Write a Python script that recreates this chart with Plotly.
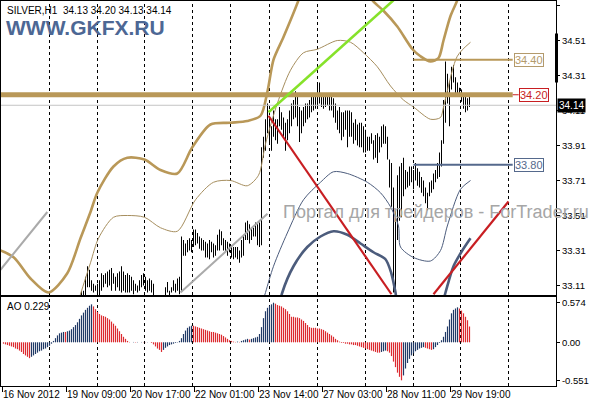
import plotly.graph_objects as go

W, H = 596, 400

# ---------------- data ----------------
SYMBOL = "SILVER,H1"
LAST_OHLC = ["34.13", "34.20", "34.13", "34.14"]
BROKER = "WWW.GKFX.RU"
WATERMARK = "Портал для трейдеров - ForTrader.ru"

FIRST_VISIBLE_BAR = 39   # earlier bars lie below the visible price range
HIGH = [
    33.08, 33.08, 33.16, 33.22, 33.20, 33.14, 33.12, 33.11, 33.12, 33.14,
    33.18, 33.17, 33.18, 33.19, 33.20, 33.21, 33.18, 33.16, 33.18, 33.19,
    33.22, 33.19, 33.17, 33.18, 33.17, 33.16, 33.14, 33.12, 33.11, 33.14,
    33.17, 33.18, 33.16, 33.14, 33.15, 33.14, 33.12, 33.04, 33.03, 33.02,
    33.03, 33.04, 33.10, 33.13, 33.08, 33.10, 33.14, 33.12, 33.15, 33.16,
    33.39, 33.37, 33.35, 33.37, 33.38, 33.37, 33.43, 33.43, 33.41, 33.39,
    33.38, 33.37, 33.36, 33.35, 33.37, 33.36, 33.35, 33.34, 33.40, 33.43,
    33.42, 33.38, 33.37, 33.36, 33.35, 33.34, 33.33, 33.33, 33.33, 33.31,
    33.37, 33.40, 33.47, 33.48, 33.46, 33.44, 33.44, 33.47, 33.46, 33.47,
    33.90, 33.96, 34.06, 34.15, 34.07, 34.02, 34.11, 34.06, 34.06, 34.13,
    34.10, 34.07, 34.04, 34.06, 34.11, 34.15, 34.17, 34.22, 34.19, 34.13,
    34.11, 34.13, 34.15, 34.15, 34.17, 34.19, 34.21, 34.20, 34.27, 34.27,
    34.21, 34.19, 34.19, 34.20, 34.19, 34.19, 34.18, 34.15, 34.11, 34.13,
    34.10, 34.10, 34.11, 34.11, 34.11, 34.10, 34.04, 34.06, 34.03, 34.04,
    34.04, 34.02, 34.00, 33.96, 33.96, 33.98, 33.94, 33.97, 33.98, 33.96,
    34.02, 34.03, 34.02, 33.96, 33.83, 33.81, 33.67, 33.54, 33.74, 33.79,
    33.81, 33.84, 33.77, 33.76, 33.79, 33.79, 33.77, 33.81, 33.78, 33.76,
    33.73, 33.71, 33.67, 33.64, 33.70, 33.71, 33.75, 33.77, 33.81, 33.87,
    33.94, 34.17, 34.39, 34.32, 34.28, 34.36, 34.37, 34.30, 34.27, 34.24,
    34.23, 34.21, 34.19, 34.18, 34.20,
]
LOW = [
    33.03, 33.03, 33.03, 33.10, 33.10, 33.08, 33.07, 33.08, 33.04, 33.03,
    33.08, 33.10, 33.12, 33.10, 33.11, 33.08, 33.12, 33.08, 33.10, 33.08,
    33.07, 33.08, 33.07, 33.07, 33.07, 33.08, 33.06, 33.08, 33.07, 33.08,
    33.10, 33.11, 33.08, 33.07, 33.08, 33.07, 33.04, 32.98, 32.97, 32.96,
    32.97, 32.98, 33.04, 33.07, 33.04, 33.07, 33.08, 33.07, 33.08, 33.06,
    33.08, 33.28, 33.28, 33.30, 33.31, 33.30, 33.33, 33.34, 33.35, 33.32,
    33.31, 33.31, 33.27, 33.27, 33.26, 33.30, 33.27, 33.28, 33.31, 33.31,
    33.34, 33.31, 33.30, 33.28, 33.30, 33.27, 33.26, 33.27, 33.26, 33.24,
    33.27, 33.28, 33.37, 33.37, 33.35, 33.37, 33.39, 33.39, 33.34, 33.33,
    33.34, 33.84, 33.88, 33.98, 33.92, 33.88, 33.96, 33.94, 33.92, 34.02,
    34.00, 33.96, 33.88, 33.94, 33.98, 34.02, 34.06, 34.07, 34.02, 33.93,
    33.98, 34.02, 34.04, 34.06, 34.07, 34.10, 34.11, 34.12, 34.13, 34.15,
    34.13, 34.12, 34.13, 34.14, 34.11, 34.11, 34.07, 34.04, 34.00, 33.98,
    33.94, 33.96, 34.00, 33.90, 33.96, 33.96, 33.92, 33.94, 33.91, 33.90,
    33.90, 33.87, 33.87, 33.88, 33.88, 33.92, 33.83, 33.84, 33.81, 33.87,
    33.90, 33.92, 33.92, 33.83, 33.67, 33.56, 33.07, 33.04, 33.37, 33.48,
    33.50, 33.62, 33.66, 33.67, 33.68, 33.70, 33.66, 33.71, 33.68, 33.67,
    33.64, 33.62, 33.58, 33.54, 33.62, 33.64, 33.66, 33.70, 33.72, 33.73,
    33.79, 33.92, 34.04, 34.15, 34.02, 34.23, 34.27, 34.21, 34.21, 34.19,
    34.16, 34.12, 34.10, 34.11, 34.13,
]

AO = [
    -0.02, -0.03, -0.04, -0.05, -0.06, -0.07, -0.09, -0.10, -0.12, -0.14,
    -0.17, -0.19, -0.21, -0.23, -0.21, -0.19, -0.17, -0.15, -0.13, -0.12,
    -0.10, -0.09, -0.07, -0.05, -0.02, 0.02, 0.06, 0.10, 0.13, 0.14,
    0.15, 0.15, 0.16, 0.17, 0.19, 0.22, 0.25, 0.29, 0.34, 0.39,
    0.43, 0.47, 0.50, 0.53, 0.55, 0.52, 0.48, 0.44, 0.41, 0.39,
    0.38, 0.37, 0.35, 0.33, 0.30, 0.27, 0.24, 0.20, 0.16, 0.12,
    0.08, 0.05, 0.02, 0.005, 0.0, 0.005, -0.005, 0.005, 0.0, 0.005,
    0.003, -0.003, 0.003, 0.0, -0.01, -0.03, -0.06, -0.09, -0.11, -0.14,
    -0.11, -0.08, -0.06, -0.04, -0.03, -0.02, -0.01, -0.005, 0.02, 0.06,
    0.12, 0.17, 0.21, 0.23, 0.24, 0.24, 0.23, 0.22, 0.21, 0.20,
    0.19, 0.18, 0.17, 0.16, 0.15, 0.15, 0.14, 0.13, 0.12, 0.11,
    0.09, 0.07, 0.05, 0.03, 0.02, 0.01, 0.005, 0.01, 0.005, 0.02,
    0.03, 0.04, 0.05, 0.04, 0.05, 0.06, 0.07, 0.08, 0.12, 0.22,
    0.35, 0.45, 0.50, 0.53, 0.55, 0.574, 0.56, 0.54, 0.53, 0.52,
    0.50, 0.48, 0.45, 0.41, 0.37, 0.37, 0.36, 0.36, 0.35, 0.33,
    0.31, 0.28, 0.25, 0.22, 0.21, 0.21, 0.21, 0.20, 0.20, 0.19,
    0.18, 0.16, 0.14, 0.12, 0.10, 0.08, 0.05, 0.03, 0.01, -0.01,
    -0.01, -0.02, -0.02, -0.03, -0.03, -0.04, -0.04, -0.05, -0.06, -0.07,
    -0.08, -0.09, -0.10, -0.11, -0.12, -0.13, -0.14, -0.15, -0.15, -0.14,
    -0.13, -0.12, -0.13, -0.15, -0.20, -0.28, -0.36, -0.44, -0.50, -0.551,
    -0.48, -0.38, -0.30, -0.24, -0.19, -0.16, -0.13, -0.11, -0.09, -0.08,
    -0.07, -0.08, -0.09, -0.10, -0.11, -0.10, -0.07, -0.04, -0.01, 0.03,
    0.08, 0.15, 0.23, 0.33, 0.42, 0.47, 0.49, 0.507, 0.49, 0.46,
    0.42, 0.37, 0.32, 0.229,
]
AO_LAST = "0.229"

TIME_LABELS = ["16 Nov 2012", "19 Nov 09:00", "20 Nov 17:00", "22 Nov 01:00",
               "23 Nov 14:00", "27 Nov 03:00", "28 Nov 11:00", "29 Nov 19:00"]
TIME_LABEL_BARS = [0, 32, 64, 96, 128, 160, 192, 224]
GRID_BARS = [23, 47, 70.5, 94.5, 113.5, 133, 157, 181, 205, 228.5, 252.5]

PRICE_TICKS = [33.11, 33.31, 33.51, 33.71, 33.91, 34.11, 34.31, 34.51, 34.71]
AO_TICKS = [-0.551, 0.0, 0.574]
AO_TICK_TEXT = ["-0.551", "0.00", "0.574"]

# envelope indicator curves (bar index, price)
UPPER_OUTER_BARS = [-1.5, 5.2, 13.5, 22.5, 31.9, 38.5, 43.5, 46.9, 55, 61.9, 70.5,
                    78.5, 86.9, 94.4, 103.5, 113.5, 121.9, 128.5, 132, 135, 140,
                    147.5, 151, 158.5, 168.5, 178.5, 184.4, 190, 196.9, 204.5,
                    208.5, 213.5, 217.5, 220, 223.5, 226.9, 229.5, 233]
UPPER_OUTER_PRICES = [33.31, 33.27, 33.15, 33.07, 33.18, 33.38, 33.53, 33.64, 33.79,
                      33.84, 33.83, 33.77, 33.75, 33.90, 34.03, 34.04, 34.05, 34.08,
                      34.22, 34.40, 34.53, 34.74, 34.86, 34.92, 34.97, 34.86, 34.74,
                      34.68, 34.59, 34.46, 34.42, 34.39, 34.41, 34.51, 34.65, 34.74,
                      34.83, 34.91]
UPPER_INNER_BARS = [33.5, 38.5, 43.5, 47.5, 55, 61.9, 70.5, 78.5, 86.9, 96, 105,
                    113.5, 121.9, 127.5, 131, 136.9, 143.5, 150, 156.9, 166.9,
                    173.5, 180, 186.9, 193.5, 200, 205, 213.5, 218.5, 220, 226.9,
                    233.5]
UPPER_INNER_PRICES = [32.86, 33.06, 33.24, 33.38, 33.50, 33.51, 33.50, 33.44, 33.42,
                      33.60, 33.70, 33.71, 33.68, 33.74, 33.92, 34.15, 34.34, 34.44,
                      34.46, 34.51, 34.50, 34.44, 34.36, 34.25, 34.17, 34.13, 34.06,
                      34.07, 34.13, 34.42, 34.50]
LOWER_INNER_BARS = [128.5, 131, 135, 141.9, 150, 158.5, 165, 171.9, 181.9, 188.5,
                    193.5, 197.5, 198.5, 205, 213.5, 218.5, 221.9, 228.5, 233.5]
LOWER_INNER_PRICES = [32.97, 33.07, 33.22, 33.41, 33.60, 33.70, 33.76, 33.75, 33.70,
                      33.64, 33.56, 33.45, 33.33, 33.27, 33.25, 33.31, 33.45, 33.66,
                      33.71]
LOWER_OUTER_BARS = [137.5, 139.4, 145, 151.9, 158.5, 165, 171.9, 178.5, 185, 191,
                    193.9, 196, 197.5, 208.5, 218.5, 221, 225, 229.4, 233.5]
LOWER_OUTER_PRICES = [32.97, 33.07, 33.22, 33.33, 33.39, 33.42, 33.40, 33.35, 33.30,
                      33.26, 33.18, 33.07, 32.97, 32.80, 32.97, 33.07, 33.22, 33.31,
                      33.38]

# drawn objects: trend lines (bar index, price) and horizontal levels
GREEN_LINE = ([132.5, 195], [34.10, 34.74])
RED_LINE_1 = ([132.5, 194], [34.08, 33.06])
RED_LINE_2 = ([215, 252.5], [33.06, 33.59])
GRAY_LINE_1 = ([-1.5, 21.9], [33.20, 33.53])
GRAY_LINE_2 = ([88.5, 132], [33.07, 33.52])
LEVEL_MAIN = 34.20
LEVEL_UP = 34.40
LEVEL_DN = 33.80
LEVEL_START_BAR = 205
LEVEL_END_BAR = 254.6
BID = 34.14

# ---------------- layout helpers ----------------
def px(x):
    return x / W


def py(y):
    return 1 - y / H


X_DOMAIN = [px(1), px(556)]
MAIN_DOMAIN = [py(295), py(1)]
AO_DOMAIN = [py(386), py(297)]
X_RANGE = [-1.25, 276.25]
MAIN_RANGE = [33.0557, 34.7357]
AO_RANGE = [-0.6333, 0.6565]

FONT = "Liberation Sans, Arial, sans-serif"
TAN = "#B99858"
TAN_THIN = "#A68E5E"
SLATE = "#4C5C7C"
RED = "#C81E22"
NAVY = "#213A66"
AO_RED = "#DC2A30"

fig = go.Figure()

# price bars (high-low lines)
bx, by = [], []
for k, (hv, lv) in enumerate(zip(HIGH, LOW)):
    i = FIRST_VISIBLE_BAR + k
    bx += [i, i, None]
    by += [lv, hv, None]
fig.add_trace(go.Scatter(x=bx, y=by, mode="lines", line=dict(color="black", width=1),
                         hoverinfo="skip", showlegend=False))

# indicator curves
def curve(xs, ys, color, width):
    fig.add_trace(go.Scatter(x=xs, y=ys, mode="lines",
                             line=dict(color=color, width=width, shape="spline", smoothing=0.8),
                             hoverinfo="skip", showlegend=False))


curve(UPPER_OUTER_BARS, UPPER_OUTER_PRICES, TAN, 2.6)
curve(UPPER_INNER_BARS, UPPER_INNER_PRICES, TAN_THIN, 1)
curve(LOWER_INNER_BARS, LOWER_INNER_PRICES, SLATE, 1)
curve(LOWER_OUTER_BARS, LOWER_OUTER_PRICES, SLATE, 2.6)


def seg(xs, ys, color, width):
    fig.add_trace(go.Scatter(x=xs, y=ys, mode="lines", line=dict(color=color, width=width),
                             hoverinfo="skip", showlegend=False))


# bid line
seg([X_RANGE[0], X_RANGE[1]], [BID, BID], "#C4C4C4", 1)
# horizontal levels
seg([X_RANGE[0], LEVEL_END_BAR], [LEVEL_MAIN, LEVEL_MAIN], TAN, 5)
seg([LEVEL_END_BAR, LEVEL_END_BAR + 3], [LEVEL_MAIN, LEVEL_MAIN], RED, 1)
seg([LEVEL_START_BAR, LEVEL_END_BAR], [LEVEL_UP, LEVEL_UP], TAN, 2)
seg([LEVEL_START_BAR, LEVEL_END_BAR], [LEVEL_DN, LEVEL_DN], "#55698C", 2)
# trend lines
seg(*GRAY_LINE_1, "#AAAAAA", 2)
seg(*GRAY_LINE_2, "#AAAAAA", 2)
seg(*GREEN_LINE, "#86E22A", 2.5)
seg(*RED_LINE_1, RED, 2.2)
seg(*RED_LINE_2, RED, 2.2)

# Awesome Oscillator: each bar drawn as a thin vertical segment from zero
up_x, up_y, dn_x, dn_y = [], [], [], []
for k, v in enumerate(AO):
    prev = AO[k - 1] if k > 0 else AO[0] + 0.01
    if v > prev:
        up_x += [k, k, None]
        up_y += [0, v, None]
    else:
        dn_x += [k, k, None]
        dn_y += [0, v, None]
fig.add_trace(go.Scatter(x=up_x, y=up_y, mode="lines", line=dict(color=NAVY, width=1.2),
                         xaxis="x2", yaxis="y2", hoverinfo="skip", showlegend=False))
fig.add_trace(go.Scatter(x=dn_x, y=dn_y, mode="lines", line=dict(color=AO_RED, width=1.2),
                         xaxis="x2", yaxis="y2", hoverinfo="skip", showlegend=False))

# dashed vertical grid
shapes = []
for g in GRID_BARS:
    for xr, yr in (("x", "y domain"), ("x2", "y2 domain")):
        shapes.append(dict(type="line", xref=xr, yref=yr, x0=g, x1=g, y0=0, y1=1,
                           line=dict(color="black", width=1, dash="3px,3px"), layer="below"))
# small black marker on the price scale
shapes.append(dict(type="line", xref="paper", yref="y", x0=px(556.5), x1=px(556.5),
                   y0=34.27, y1=34.55, line=dict(color="black", width=3)))

ann = []
ann.append(dict(text=SYMBOL + "\u00a0\u00a0" + " ".join(LAST_OHLC), xref="paper", yref="paper",
                x=px(5), y=py(10), xanchor="left", yanchor="middle", showarrow=False,
                font=dict(family=FONT, size=10, color="black")))
ann.append(dict(text="<b>" + BROKER + "</b>", xref="paper", yref="paper",
                x=px(4), y=py(27), xanchor="left", yanchor="middle", showarrow=False,
                font=dict(family=FONT, size=21, color="#4D6794")))
ann.append(dict(text=WATERMARK, xref="paper", yref="paper", x=px(281), y=py(212),
                xanchor="left", yanchor="middle", showarrow=False,
                font=dict(family=FONT, size=18, color="#A6A6A6")))
ann.append(dict(text="AO " + AO_LAST, xref="paper", yref="paper", x=px(5), y=py(306),
                xanchor="left", yanchor="middle", showarrow=False,
                font=dict(family=FONT, size=10, color="black")))
for b, t in zip(TIME_LABEL_BARS, TIME_LABELS):
    ann.append(dict(text=t, xref="x2", yref="paper", x=b - 0.75, y=py(394),
                    xanchor="left", yanchor="middle", showarrow=False, xshift=-1,
                    font=dict(family=FONT, size=10, color="black")))
for val, col, xl in ((LEVEL_UP, "#B39A6C", 514), (LEVEL_MAIN, RED, 519), (LEVEL_DN, "#55698C", 514)):
    ann.append(dict(text=f"{val:.2f}", xref="paper", yref="y", x=px(xl), y=val,
                    xanchor="left", yanchor="middle", showarrow=False,
                    bgcolor="white", bordercolor=col, borderwidth=1, borderpad=0,
                    font=dict(family=FONT, size=11, color=col)))
ann.append(dict(text=f"{BID:.2f}", xref="paper", yref="y", x=px(557), y=BID,
                xanchor="left", yanchor="middle", showarrow=False,
                bgcolor="black", borderpad=1,
                font=dict(family=FONT, size=10, color="white")))

axis_common = dict(showline=True, mirror=True, linecolor="black", linewidth=1,
                   showgrid=False, zeroline=False, automargin=False)

fig.update_layout(
    width=W, height=H,
    margin=dict(l=0, r=0, t=0, b=0),
    paper_bgcolor="white", plot_bgcolor="rgba(0,0,0,0)",
    showlegend=False,
    xaxis=dict(domain=X_DOMAIN, range=X_RANGE, anchor="y", showticklabels=False,
               ticks="", **axis_common),
    yaxis=dict(domain=MAIN_DOMAIN, range=MAIN_RANGE, anchor="x", side="right",
               tickvals=PRICE_TICKS, ticktext=[f"{v:.2f}" for v in PRICE_TICKS],
               ticks="outside", ticklen=3, tickcolor="black",
               tickfont=dict(family=FONT, size=9.5, color="black"), **axis_common),
    xaxis2=dict(domain=X_DOMAIN, range=X_RANGE, anchor="y2", showticklabels=False,
                tickvals=[b - 0.75 for b in TIME_LABEL_BARS], ticks="outside", ticklen=5,
                tickcolor="black", **axis_common),
    yaxis2=dict(domain=AO_DOMAIN, range=AO_RANGE, anchor="x2", side="right",
                tickvals=AO_TICKS, ticktext=AO_TICK_TEXT, ticks="outside", ticklen=3,
                tickcolor="black", tickfont=dict(family=FONT, size=9.5, color="black"),
                **axis_common),
    shapes=shapes, annotations=ann,
)

fig.write_html(
    "out.html",
    config={"displayModeBar": False},
    post_script="document.body.style.margin='0px';document.body.style.overflow='hidden';",
)
